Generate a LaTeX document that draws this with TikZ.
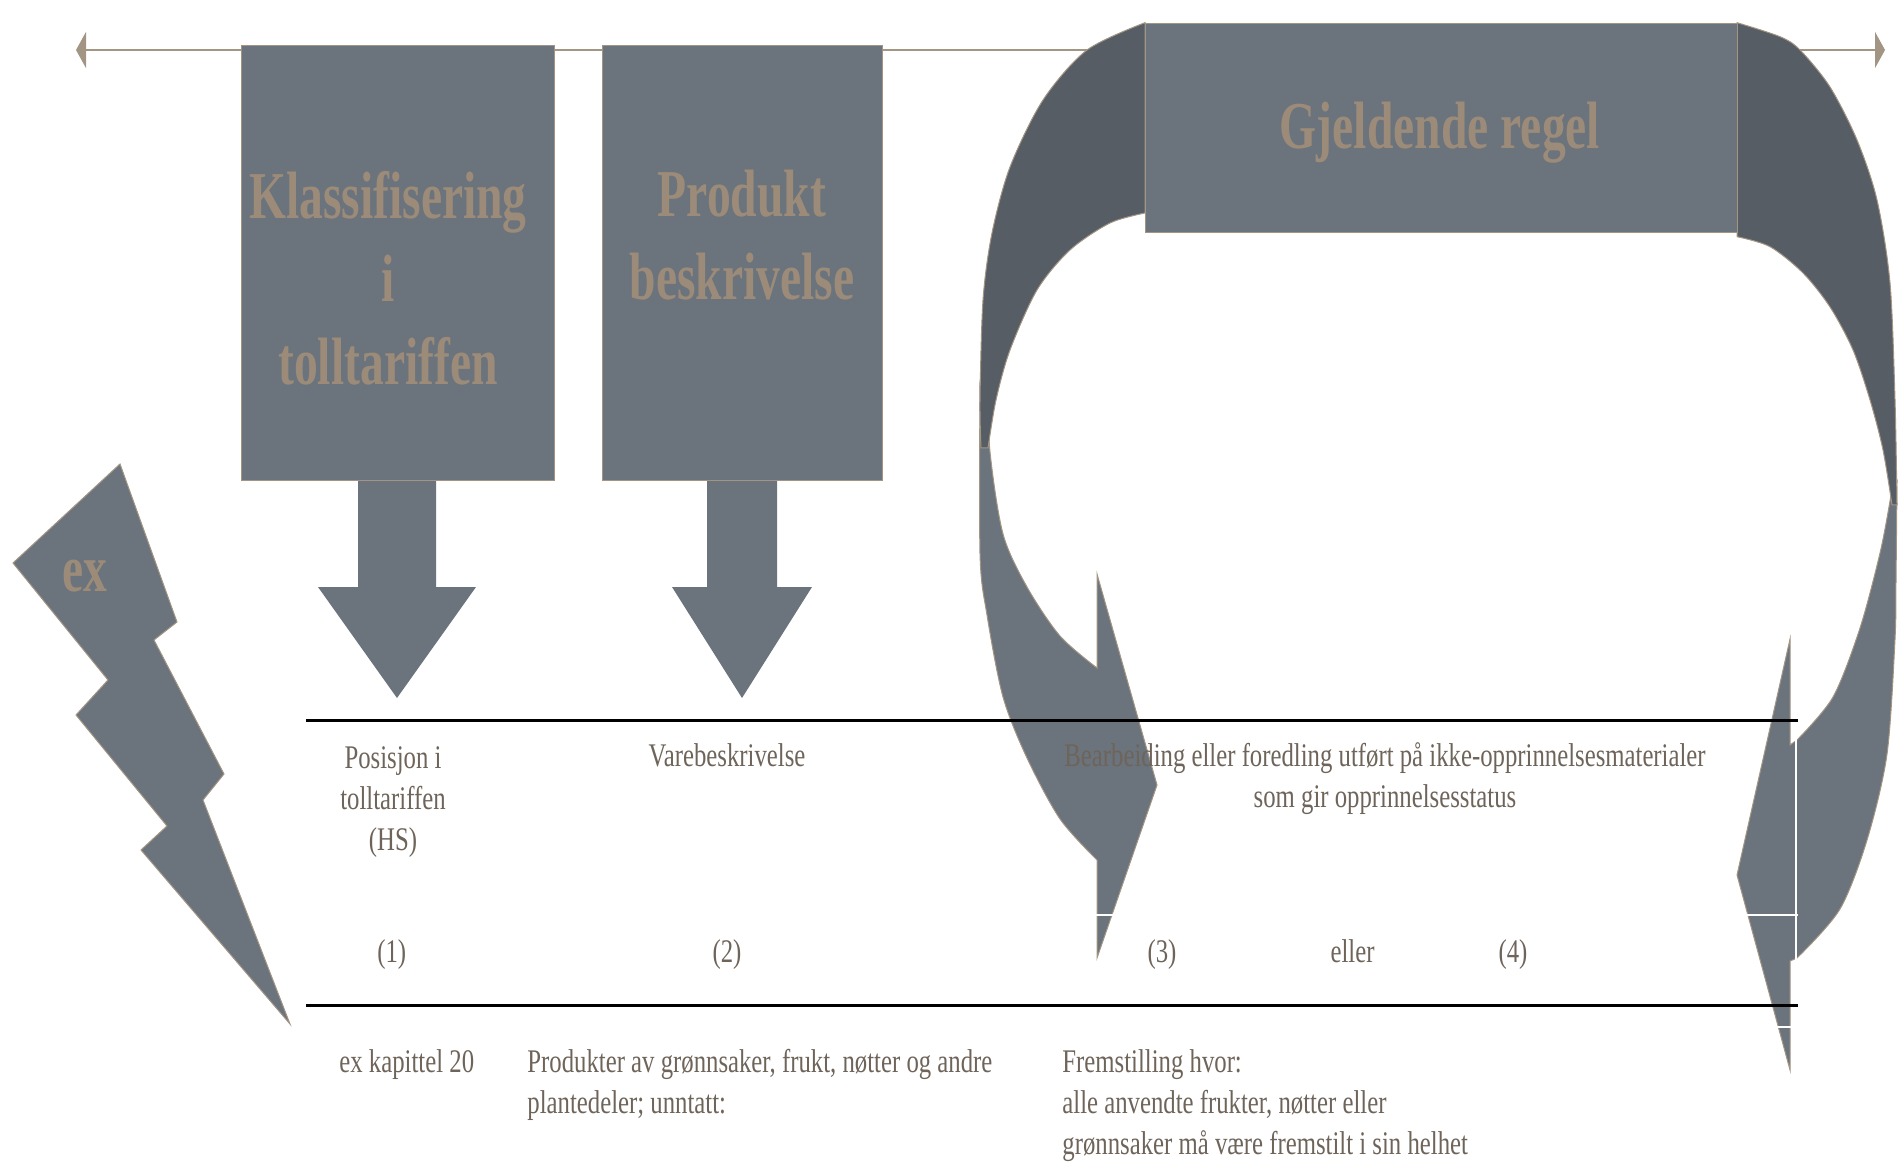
\documentclass[tikz,border=0pt]{standalone}
\usepackage{fontspec}
\setmainfont{Liberation Serif}
\newfontfamily\headfont[FakeStretch=0.71]{Liberation Serif}
\newfontfamily\cellfont[FakeStretch=0.75]{Liberation Serif}
\usepackage{tikz}
\usetikzlibrary{arrows.meta}
\definecolor{slate}{HTML}{6B737C}
\definecolor{darkslate}{HTML}{565D65}
\definecolor{taupe}{HTML}{A39584}
\definecolor{headtan}{HTML}{9C8B79}
\definecolor{inkbrown}{HTML}{6E645A}

\begin{document}
\begin{tikzpicture}[x=0.5pt, y=-0.5pt,
    block/.style   = {fill=slate, draw=taupe, line width=0.5pt},
    band/.style    = {fill=darkslate, draw=taupe, line width=0.5pt},
    box/.style     = {block, anchor=north west, inner sep=0pt},
    heading/.style = {font=\headfont\bfseries\fontsize{33.5}{41.5}\selectfont,
      text=headtan, align=center, anchor=base, inner sep=0pt},
    cell/.style    = {font=\cellfont\fontsize{16.5}{20.5}\selectfont,
      text=inkbrown, anchor=base, inner sep=0pt},
    rule/.style    = {line width=1.5pt, black},
    gridline/.style = {line width=1pt, white},
  ]
  \useasboundingbox (0,0) rectangle (1899,1165);
  \coordinate (tl) at (76,50);
  \coordinate (tr) at (1885,50);
  \draw[taupe, line width=1pt, {Triangle[length=5pt,width=18pt]}-{Triangle[length=5pt,width=18pt]}] (tl) -- (tr);

  \filldraw[block] (980,380) -- plot[smooth] coordinates {(980,380) (980,554) (987,615) (1003,697) (1027,758) (1060,819) (1097,860)}
    -- (1097,958) -- (1157,785) -- (1097,574) -- (1097,668)
    -- plot[smooth] coordinates {(1097,668) (1060,636) (1027,587) (1003,534) (990,452) (987,380)} -- cycle;
  \filldraw[block] (1897,480) -- plot[smooth] coordinates {(1897,480) (1896,580) (1895,639) (1887,754) (1867,840) (1840,909) (1800,955)}
    -- (1797,958) -- (1790,961) -- (1790,1070) -- (1737,875) -- (1790,639) -- (1790,745) -- (1797,740)
    -- plot[smooth] coordinates {(1797,740) (1833,697) (1860,628) (1880,553) (1890,501) (1893,480)} -- cycle;
  \filldraw[band] (1145,22.7) -- plot[smooth] coordinates {(1145,22.7) (1087,50) (1043,100) (1010,167) (992,233) (983,300) (980,400) (981,448)}
    -- plot[smooth] coordinates {(988,448) (996,400) (1010,350) (1037,290) (1070,250) (1110,223) (1145,213)} -- cycle;
  \filldraw[band] (1737,22.7) -- plot[smooth] coordinates {(1737,22.7) (1780,36.7) (1800,50) (1830,87) (1857,140) (1877,200) (1890,283) (1895,400) (1897,505)}
    -- plot[smooth] coordinates {(1892,505) (1883,450) (1870,400) (1853,350) (1830,307) (1803,273) (1770,246.7) (1737,236.7)} -- cycle;
  \node[box, minimum width=296pt, minimum height=104.5pt] (grbox) at (1145,22.7) {};
  \node[heading] (gr) at (1440,149) {Gjeldende regel};

  \coordinate (klfoot) at (397,480);
  \coordinate (pbfoot) at (742,480);
  \fill[slate] (klfoot) ++(-39,0) -- ++(0,107) -- ++(-40,0) -- ++(79,111) -- ++(79,-111) -- ++(-40,0) -- ++(0,-107) -- cycle;
  \fill[slate] (pbfoot) ++(-35,0) -- ++(0,107) -- ++(-35,0) -- ++(70,111) -- ++(70,-111) -- ++(-35,0) -- ++(0,-107) -- cycle;
  \node[box, minimum width=156.5pt, minimum height=217.75pt] (klbox) at (240.5,44.8) {};
  \node[box, minimum width=140.3pt, minimum height=217.75pt] (pbbox) at (601.6,44.8) {};
  \node[heading] (kl) at (388,385) {Klassifisering\\i\\tolltariffen};
  \node[heading] (pb) at (742,300) {Produkt\\beskrivelse};

  \filldraw[block] (13,563) -- (120,464) -- (177,622) -- (154,640) -- (224,774) -- (203,800) -- (290,1024)
    -- (141,850) -- (167,826) -- (76,715) -- (108,680) -- cycle;
  \node[heading] (ex) at (85,591.7) {ex};

  \draw[gridline] (306,915) -- (1798,915);
  \draw[gridline] (306,1027) -- (1798,1027);
  \draw[gridline] (1796,720) -- (1796,1030);
  \draw[rule] (306,720.7) -- (1798,720.7);
  \draw[rule] (306,1005.5) -- (1798,1005.5);

  \node[cell, align=center] (pos) at (393,850) {Posisjon i\\tolltariffen\\(HS)};
  \node[cell] (vare) at (727,766.6) {Varebeskrivelse};
  \node[cell, align=center] (bearb) at (1385,807.6) {Bearbeiding eller foredling utført på ikke-opprinnelsesmaterialer\\som gir opprinnelsesstatus};
  \node[cell] (n1) at (391.7,962) {(1)};
  \node[cell] (n2) at (727,962) {(2)};
  \node[cell] (n3) at (1162,962) {(3)};
  \node[cell] (eller) at (1352.5,962) {eller};
  \node[cell] (n4) at (1513,962) {(4)};
  \node[cell, anchor=base west] (kap) at (339,1072.5) {ex kapittel 20};
  \node[cell, anchor=base west, align=left] (prod) at (527,1113.6) {Produkter av grønnsaker, frukt, nøtter og andre\\plantedeler; unntatt:};
  \node[cell, anchor=base west, align=left] (frem) at (1062,1154.6) {Fremstilling hvor:\\alle anvendte frukter, nøtter eller\\grønnsaker må være fremstilt i sin helhet};
\end{tikzpicture}
\end{document}
